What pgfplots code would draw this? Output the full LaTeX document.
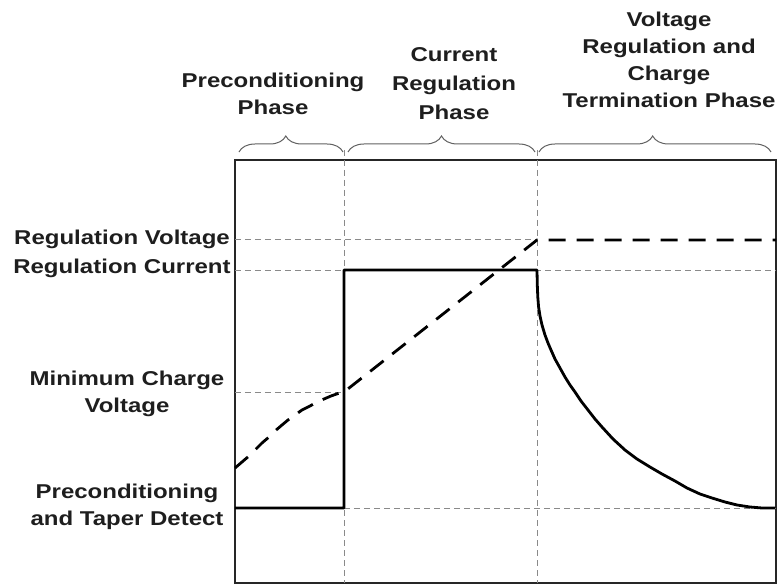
\documentclass[border=0pt]{standalone}
\usepackage{fontspec}
\setmainfont{Liberation Sans}[FakeStretch=1.2]
\usepackage{pgfplots}
\pgfplotsset{compat=1.18}
\usetikzlibrary{decorations.pathreplacing}
\definecolor{txt}{HTML}{1E1E1E}
\definecolor{gridc}{HTML}{8A8A8A}
\tikzset{lab/.style={font=\fontsize{20bp}{27bp}\selectfont\bfseries, text=txt, align=center, inner sep=0pt}}
\begin{document}
\begin{tikzpicture}
\begin{axis}[
 scale only axis, width=541bp, height=423bp,
 xmin=235, xmax=776, ymin=160, ymax=583, y dir=reverse,
 xtick=\empty, ytick=\empty,
 axis line style={line width=1.4bp, black!85},
 clip=false,
 grid/.style={gridc, line width=0.9bp, dash pattern=on 6bp off 4bp},
]
% guide lines
\addplot[grid] coordinates {(344,150) (344,583)};
\addplot[grid] coordinates {(537,150) (537,583)};
\addplot[grid] coordinates {(235,239) (537,239)};
\addplot[grid] coordinates {(235,270) (776,270)};
\addplot[grid] coordinates {(235,392) (344,392)};
\addplot[grid] coordinates {(344,508) (776,508)};
% current
\addplot[black, line width=2.8bp, line join=round] coordinates {
(235,508) (344,508) (344,270) (537,270)
(537.3,285) (537.8,297) (538.6,307) (540,316) (542,325) (545,335) (548,343)
(551,350) (555,359) (560,368) (565,377) (570,385) (575,392) (581,401)
(588,410) (595,419) (602,427) (613,439) (625,450) (637,459) (650,467)
(662,474) (675,481) (687,488) (700,494) (712,498) (725,502) (737,505)
(750,507) (762,508) (775,508)};
% voltage
\addplot[black, line width=2.8bp, dash pattern=on 17bp off 11bp] coordinates {
(235,468) (242,462) (249,456) (256,449) (262,443) (269,437) (275,431)
(282,425) (288,420) (295,415) (302,410) (310,406) (317,402) (324,399)
(331,396) (338,393.5) (344,392)
(537,240) (776,240)};
% braces
\draw[gridc!70!black, line width=1bp, decorate, decoration={brace, amplitude=16bp, aspect=0.45}]
 (axis cs:239,152) -- (axis cs:343,152);
\draw[gridc!70!black, line width=1bp, decorate, decoration={brace, amplitude=16bp}]
 (axis cs:348,152) -- (axis cs:535,152);
\draw[gridc!70!black, line width=1bp, decorate, decoration={brace, amplitude=16bp, aspect=0.49}]
 (axis cs:539,152) -- (axis cs:771,152);
% phase labels
\node[lab] at (axis cs:273,94) {Preconditioning\\Phase};
\node[lab] at (axis cs:454,84) {Current\\[2bp]Regulation\\[2bp]Phase};
\node[lab] at (axis cs:669,60) {Voltage\\Regulation and\\Charge\\Termination Phase};
% level labels
\node[lab] at (axis cs:122,239) {Regulation Voltage};
\node[lab] at (axis cs:122,268) {Regulation Current};
\node[lab] at (axis cs:127,394) {Minimum Charge\\Voltage};
\node[lab] at (axis cs:127,507) {Preconditioning\\and Taper Detect};
\coordinate (BL) at (axis cs:0,585);
\coordinate (TR) at (axis cs:778,0);
\end{axis}
\pgfresetboundingbox
\path[use as bounding box] (BL) rectangle (TR);
\end{tikzpicture}
\end{document}
